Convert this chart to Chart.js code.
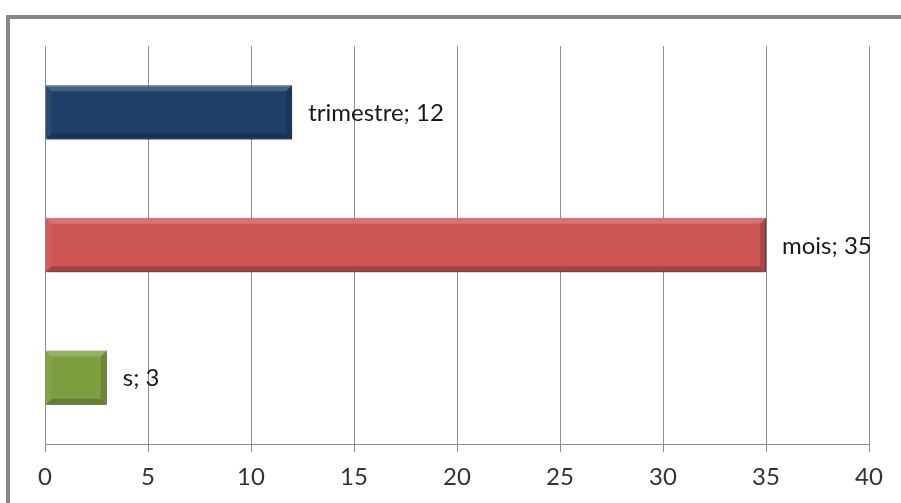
<!DOCTYPE html>
<html>
<head>
<meta charset="utf-8">
<script src="https://cdn.jsdelivr.net/npm/chart.js@4"></script>
<style>
  html, body { margin: 0; padding: 0; background: #fff; }
  #wrap { width: 901px; height: 503px; }
</style>
</head>
<body>
<div id="wrap"><canvas id="grafico" width="901" height="503"></canvas></div>
<script>
const categories = ['trimestre', 'mois', 's'];
const valeurs = [12, 35, 3];
const tickValues = [0, 5, 10, 15, 20, 25, 30, 35, 40];

const couleurs = [
    '#1F3F68', // trimestre
    '#CD5553', // mois
    '#7E9F3F'  // s
];
const bordures = ['#16304f', '#a8403e', '#5f7a2c'];

// cadre gris autour du graphique
const cadre = {
    id: 'cadre',
    beforeDraw(chart) {
        const c = chart.ctx;
        c.save();
        c.fillStyle = '#fff';
        c.fillRect(0, 0, chart.width, chart.height);
        c.fillStyle = '#888';
        c.fillRect(6, 15, chart.width - 6, 4);
        c.fillRect(6, 15, 4, chart.height - 15);
        c.restore();
    }
};

// ombre + biseau des barres
const biseau = {
    id: 'biseau',
    beforeDatasetsDraw(chart) {
        const c = chart.ctx;
        c.save();
        c.shadowColor = 'rgba(0,0,0,0.35)';
        c.shadowBlur = 5;
        c.shadowOffsetX = 1;
        c.shadowOffsetY = 2;
    },
    afterDatasetsDraw(chart) {
        const c = chart.ctx;
        c.restore();
        const meta = chart.getDatasetMeta(0);
        meta.data.forEach(function (bar, i) {
            const x0 = bar.base, x1 = bar.x;
            const y0 = bar.y - bar.height / 2, y1 = bar.y + bar.height / 2;
            const b = 6;
            c.save();
            // haut
            c.fillStyle = 'rgba(255,255,255,0.18)';
            c.beginPath();
            c.moveTo(x0, y0); c.lineTo(x1, y0); c.lineTo(x1 - b, y0 + b); c.lineTo(x0 + b, y0 + b);
            c.closePath(); c.fill();
            // bas
            c.fillStyle = 'rgba(0,0,0,0.2)';
            c.beginPath();
            c.moveTo(x0, y1); c.lineTo(x1, y1); c.lineTo(x1 - b, y1 - b); c.lineTo(x0 + b, y1 - b);
            c.closePath(); c.fill();
            // droite
            c.fillStyle = 'rgba(0,0,0,0.15)';
            c.beginPath();
            c.moveTo(x1, y0); c.lineTo(x1, y1); c.lineTo(x1 - b, y1 - b); c.lineTo(x1 - b, y0 + b);
            c.closePath(); c.fill();
            // gauche
            c.fillStyle = 'rgba(255,255,255,0.06)';
            c.beginPath();
            c.moveTo(x0, y0); c.lineTo(x0, y1); c.lineTo(x0 + b, y1 - b); c.lineTo(x0 + b, y0 + b);
            c.closePath(); c.fill();
            c.restore();

            // étiquette
            c.save();
            c.font = '24px Lato';
            c.fillStyle = '#1a1a1a';
            c.textAlign = 'left';
            c.textBaseline = 'middle';
            c.fillText(categories[i] + '; ' + valeurs[i], x1 + 16, bar.y + 1);
            c.restore();
        });
    }
};

new Chart(document.getElementById('grafico').getContext('2d'), {
    type: 'bar',
    data: {
        labels: categories,
        datasets: [{
            data: valeurs,
            backgroundColor: couleurs,
            borderColor: bordures,
            borderWidth: 1,
            barPercentage: 0.41,
            categoryPercentage: 1
        }]
    },
    options: {
        indexAxis: 'y',
        responsive: false,
        animation: false,
        layout: {
            padding: { left: 45, right: 32, top: 46, bottom: 0 }
        },
        plugins: {
            legend: { display: false },
            tooltip: { enabled: false }
        },
        scales: {
            x: {
                min: 0,
                max: 40,
                afterBuildTicks: function (scale) {
                    scale.ticks = tickValues.map(v => ({ value: v }));
                },
                afterFit: function (scale) { scale.height = 59; },
                grid: {
                    color: '#8c8c8c',
                    lineWidth: 1,
                    tickLength: 8
                },
                border: { color: '#8c8c8c' },
                ticks: {
                    color: '#333',
                    padding: 11,
                    font: { family: 'Lato', size: 24 }
                }
            },
            y: {
                display: false
            }
        }
    },
    plugins: [cadre, biseau]
});
</script>
</body>
</html>
